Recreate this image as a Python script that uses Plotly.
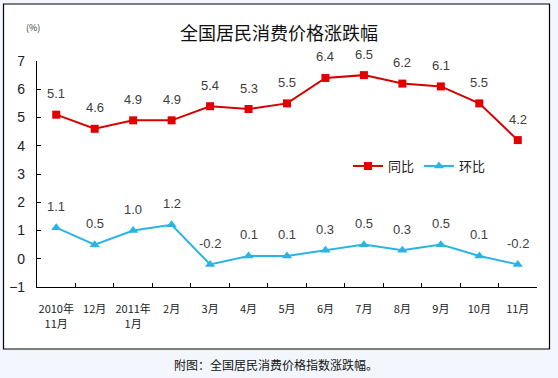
import plotly.graph_objects as go

categories = ["2010年<br>11月", "12月", "2011年<br>1月", "2月", "3月", "4月", "5月",
              "6月", "7月", "8月", "9月", "10月", "11月"]
yoy = [5.1, 4.6, 4.9, 4.9, 5.4, 5.3, 5.5, 6.4, 6.5, 6.2, 6.1, 5.5, 4.2]
mom = [1.1, 0.5, 1.0, 1.2, -0.2, 0.1, 0.1, 0.3, 0.5, 0.3, 0.5, 0.1, -0.2]
y_ticks = [-1, 0, 1, 2, 3, 4, 5, 6, 7]

W, H = 558, 378
L, R, T, B = 37, 21, 61, 91
pw, ph = W - L - R, H - T - B

RED = "#e00000"
CYAN = "#2ab4e4"
BG = "#f3f7fd"
FONT = "Noto Sans CJK SC, Arial, sans-serif"

fig = go.Figure()
fig.add_trace(go.Scatter(
    x=categories, y=yoy, name="同比", mode="lines+markers",
    line=dict(color="#d40000", width=2),
    marker=dict(symbol="square", size=8, color=RED),
))
fig.add_trace(go.Scatter(
    x=categories, y=mom, name="环比", mode="lines+markers",
    line=dict(color=CYAN, width=2),
    marker=dict(symbol="triangle-up", size=9, color=CYAN),
))

annotations = []
for series in (yoy, mom):
    for c, v in zip(categories, series):
        annotations.append(dict(
            x=c, y=v, text=f"{v:.1f}", showarrow=False, yshift=21,
            font=dict(size=13, color="#404040", family="Arial, sans-serif"),
        ))


def px_x(p):
    return (p - L) / pw


def px_y(p):
    return (H - B - p) / ph


annotations.append(dict(
    xref="paper", yref="paper", x=px_x(279), y=px_y(32), text="全国居民消费价格涨跌幅",
    showarrow=False, font=dict(size=18, color="#111111", family=FONT),
    xanchor="center", yanchor="middle",
))
annotations.append(dict(
    xref="paper", yref="paper", x=px_x(33), y=px_y(27), text="(%)",
    showarrow=False, font=dict(size=9, color="#333333", family=FONT),
    xanchor="center", yanchor="middle",
))
annotations.append(dict(
    xref="paper", yref="paper", x=px_x(276), y=px_y(364),
    text="附图：全国居民消费价格指数涨跌幅。",
    showarrow=False, font=dict(size=12, color="#111111", family=FONT),
    xanchor="center", yanchor="middle",
))

shapes = [dict(
    type="rect", xref="paper", yref="paper", layer="below",
    x0=px_x(3.5), x1=px_x(549.5), y0=px_y(349), y1=px_y(4),
    line=dict(color="#000000", width=1.2), fillcolor="#ffffff",
)]

fig.update_layout(
    width=W, height=H,
    margin=dict(l=L, r=R, t=T, b=B, pad=0, autoexpand=False),
    paper_bgcolor=BG,
    plot_bgcolor="rgba(0,0,0,0)",
    showlegend=True,
    legend=dict(
        orientation="h", x=px_x(348), y=px_y(166), xanchor="left", yanchor="middle",
        font=dict(size=13, color="#222222", family=FONT),
        bgcolor="rgba(0,0,0,0)", itemwidth=30, tracegroupgap=0,
    ),
    annotations=annotations,
    shapes=shapes,
    xaxis=dict(
        type="category", showline=True, linecolor="#000000", linewidth=1.2,
        ticks="inside", tickson="boundaries", ticklen=4, tickcolor="#000000",
        showgrid=False, zeroline=False, tickangle=0, automargin=False,
        ticklabelstandoff=12,
        tickfont=dict(size=11, color="#222222", family=FONT),
        range=[-0.5, len(categories) - 0.5],
    ),
    yaxis=dict(
        range=[-1, 7], tickvals=y_ticks, showline=True, linecolor="#000000",
        linewidth=1.2, ticks="inside", ticklen=4, tickcolor="#000000",
        showgrid=False, zeroline=False, ticklabelstandoff=8, automargin=False,
        tickfont=dict(size=14, color="#222222", family="Arial, sans-serif"),
    ),
)

fig.write_html(
    "out.html",
    config={"displayModeBar": False},
    post_script=(
        "document.body.style.margin='0';"
        "document.body.style.padding='0';"
        f"document.body.style.background='{BG}';"
        "document.body.style.overflow='hidden';"
    ),
)
